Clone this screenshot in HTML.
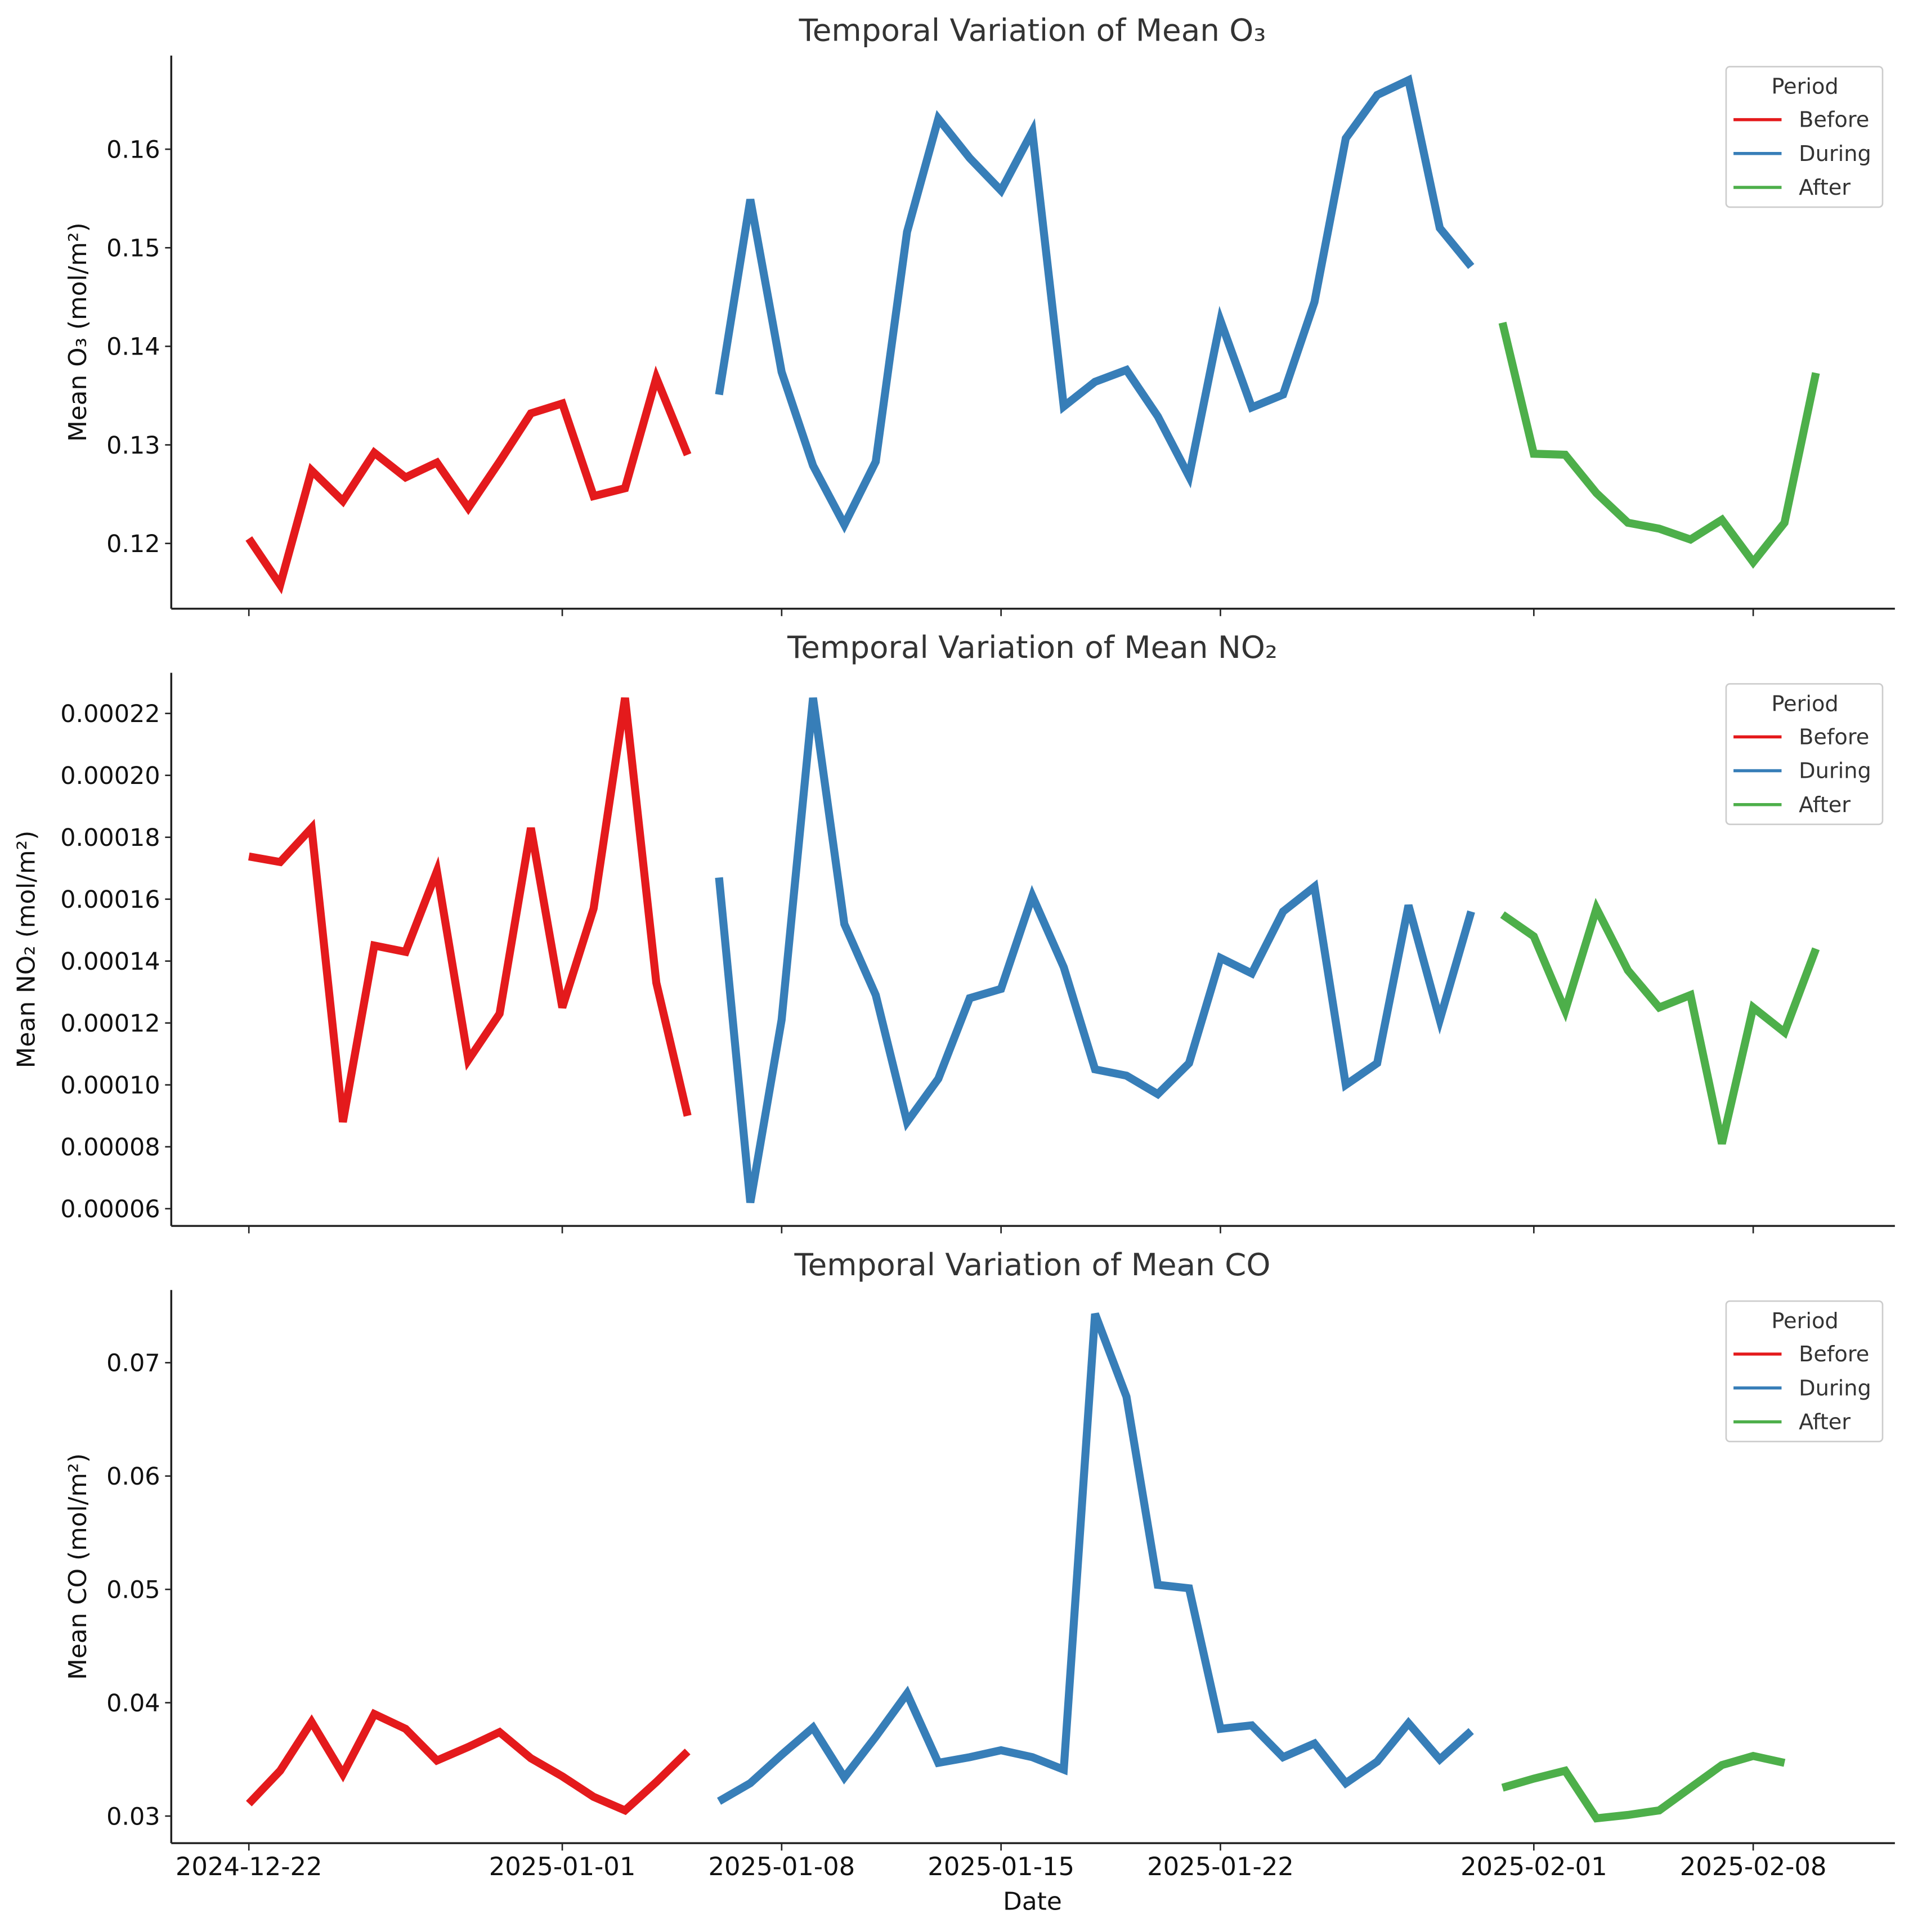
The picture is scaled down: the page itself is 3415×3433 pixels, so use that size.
<!DOCTYPE html>
<html><head><meta charset="utf-8"><style>
html,body{margin:0;padding:0;background:#fff;}
svg{display:block;}
text{font-family:"DejaVu Sans","Liberation Sans",sans-serif;}
</style></head><body>
<svg id="chart" width="3415" height="3433" viewBox="0 0 1560 1568" xmlns="http://www.w3.org/2000/svg"></svg>
<script>
// ---- data ----
const tickLabels = ["2024-12-22","2025-01-01","2025-01-08","2025-01-15","2025-01-22","2025-02-01","2025-02-08"];
const tickDays = [0,10,17,24,31,41,48];
const beforeStart = 0, duringStart = 15, afterStart = 40;

const o3Before = [0.1205,0.1158,0.1274,0.1243,0.1292,0.1267,0.1282,0.1236,0.1283,0.1332,0.1342,0.1248,0.1256,0.1368,0.1290];
const o3During = [0.1351,0.1549,0.1374,0.1279,0.1219,0.1283,0.1516,0.1631,0.1591,0.1558,0.1618,0.1339,0.1364,0.1376,0.1329,0.1268,0.1426,0.1338,0.1351,0.1445,0.1611,0.1655,0.1670,0.1520,0.1481];
const o3After = [0.1424,0.1291,0.1290,0.1251,0.1221,0.1215,0.1204,0.1224,0.1181,0.1221,0.1373];

const no2Before = [17.38,17.2,18.3,8.8,14.5,14.3,16.9,10.8,12.3,18.3,12.5,15.7,22.5,13.3,9.0];
const no2During = [16.7,6.2,12.1,22.5,15.2,12.9,8.8,10.2,12.8,13.1,16.1,13.8,10.5,10.3,9.7,10.7,14.1,13.6,15.6,16.4,10.0,10.7,15.8,12.1,15.6];
const no2After = [15.5,14.8,12.4,15.7,13.7,12.5,12.9,8.1,12.5,11.7,14.4];

const coBefore = [0.0311,0.0340,0.0383,0.0337,0.0390,0.0377,0.0349,0.0361,0.0374,0.0351,0.0335,0.0317,0.0305,0.0330,0.0357];
const coDuring = [0.0313,0.0329,0.0354,0.0378,0.0334,0.0370,0.0408,0.0347,0.0352,0.0358,0.0352,0.0341,0.0743,0.0670,0.0504,0.0501,0.0377,0.0380,0.0352,0.0364,0.0329,0.0348,0.0382,0.0350,0.0375];
const coAfter = [0.0325,0.0333,0.0340,0.0298,0.0301,0.0305,0.0325,0.0345,0.0353,0.0347];

const o3Ticks = [0.12,0.13,0.14,0.15,0.16];
const no2Ticks = [6,8,10,12,14,16,18,20,22];
const coTicks = [0.03,0.04,0.05,0.06,0.07];

// ---- layout ----
const NS = "http://www.w3.org/2000/svg";
const svg = document.getElementById('chart');
const X0 = 139, X1 = 1538;
const xScale = d => 202 + d * (1423 - 202) / 48;
function mk(tag, attrs, parent) {
  const e = document.createElementNS(NS, tag);
  for (const k in attrs) e.setAttribute(k, attrs[k]);
  (parent || svg).appendChild(e);
  return e;
}
const colors = {Before:"#e41a1c", During:"#377eb8", After:"#4daf4a"};

const panels = [
  {name:"o3", title:"Temporal Variation of Mean O₃", ylabel:"Mean O₃ (mol/m²)", top:45, bottom:494, ylx:70,
   v0:0.12, y0:441, v1:0.16, y1:121, ticks:o3Ticks, fmt:v=>v.toFixed(2),
   series:[o3Before,o3During,o3After]},
  {name:"no2", title:"Temporal Variation of Mean NO₂", ylabel:"Mean NO₂ (mol/m²)", top:546, bottom:995, ylx:28,
   v0:6, y0:981, v1:22, y1:579, ticks:no2Ticks, fmt:v=>(v*1e-5).toFixed(5),
   series:[no2Before,no2During,no2After]},
  {name:"co", title:"Temporal Variation of Mean CO", ylabel:"Mean CO (mol/m²)", top:1047, bottom:1496, ylx:70,
   v0:0.03, y0:1474, v1:0.07, y1:1106, ticks:coTicks, fmt:v=>v.toFixed(2),
   series:[coBefore,coDuring,coAfter]}
];
const starts = [beforeStart, duringStart, afterStart];
const periodNames = ["Before","During","After"];

panels.forEach((p, pi) => {
  const g = mk('g', {});
  
  
  const yScale = v => p.y0 + (v - p.v0) * (p.y1 - p.y0) / (p.v1 - p.v0);

  const t = mk('text', {x:838, y:p.top - 12, 'text-anchor':'middle', 'font-size':25, fill:'#333'}, g);
  t.textContent = p.title;
  
  

  const yl = mk('text', {x:0, y:0, 'text-anchor':'middle', 'font-size':20, fill:'#111',
    transform:`translate(${p.ylx},${(p.top+p.bottom)/2}) rotate(-90)`}, g);
  yl.textContent = p.ylabel;
  
  

  const ya = mk('line', {x1:X0, y1:p.top, x2:X0, y2:p.bottom, stroke:'#222', 'stroke-width':1.6}, g);
  
  
  const xa = mk('line', {x1:X0, y1:p.bottom, x2:X1, y2:p.bottom, stroke:'#222', 'stroke-width':1.6}, g);
  
  

  p.ticks.forEach(v => {
    const y = yScale(v);
    mk('line', {x1:X0-5, y1:y, x2:X0, y2:y, stroke:'#222', 'stroke-width':1.2}, g);
    const tl = mk('text', {x:X0-9, y:y+7, 'text-anchor':'end', 'font-size':19.6, fill:'#111'}, g);
    tl.textContent = p.fmt(v);
    
    
  });
  tickDays.forEach((d, i) => {
    const x = xScale(d);
    mk('line', {x1:x, y1:p.bottom, x2:x, y2:p.bottom+6, stroke:'#222', 'stroke-width':1.2}, g);
    if (pi === 2) {
      const tl = mk('text', {x:x, y:p.bottom+26, 'text-anchor':'middle', 'font-size':20.5, fill:'#111'}, g);
      tl.textContent = tickLabels[i];
      
      
    }
  });

  p.series.forEach((arr, si) => {
    const pts = arr.map((v, i) => xScale(starts[si] + i).toFixed(1) + ',' + yScale(v).toFixed(1)).join(' ');
    const pl = mk('polyline', {points:pts, fill:'none', stroke:colors[periodNames[si]], 'stroke-width':6.5, 'stroke-linejoin':'miter', 'stroke-miterlimit':4}, g);
    
    
  });

  const lg = mk('g', {transform:`translate(0,${p.top})`}, g);
  
  
  mk('rect', {x:1401, y:9, width:127, height:114, rx:3, fill:'#fff', stroke:'#ccc', 'stroke-width':1.2}, lg);
  const lt = mk('text', {x:1465, y:31, 'text-anchor':'middle', 'font-size':17.5, fill:'#333'}, lg);
  lt.textContent = 'Period';
  periodNames.forEach((n, i) => {
    const y = 52 + i * 27.5;
    const e = mk('g', {}, lg);
    
    
    mk('line', {x1:1407, y1:y, x2:1446, y2:y, stroke:colors[n], 'stroke-width':2.5}, e);
    const tx = mk('text', {x:1460, y:y+6, 'text-anchor':'start', 'font-size':17.5, fill:'#333'}, e);
    tx.textContent = n;
  });
});

const xt = mk('text', {x:838, y:1550, 'text-anchor':'middle', 'font-size':20, fill:'#111'});
xt.textContent = 'Date';


</script>
</body></html>
